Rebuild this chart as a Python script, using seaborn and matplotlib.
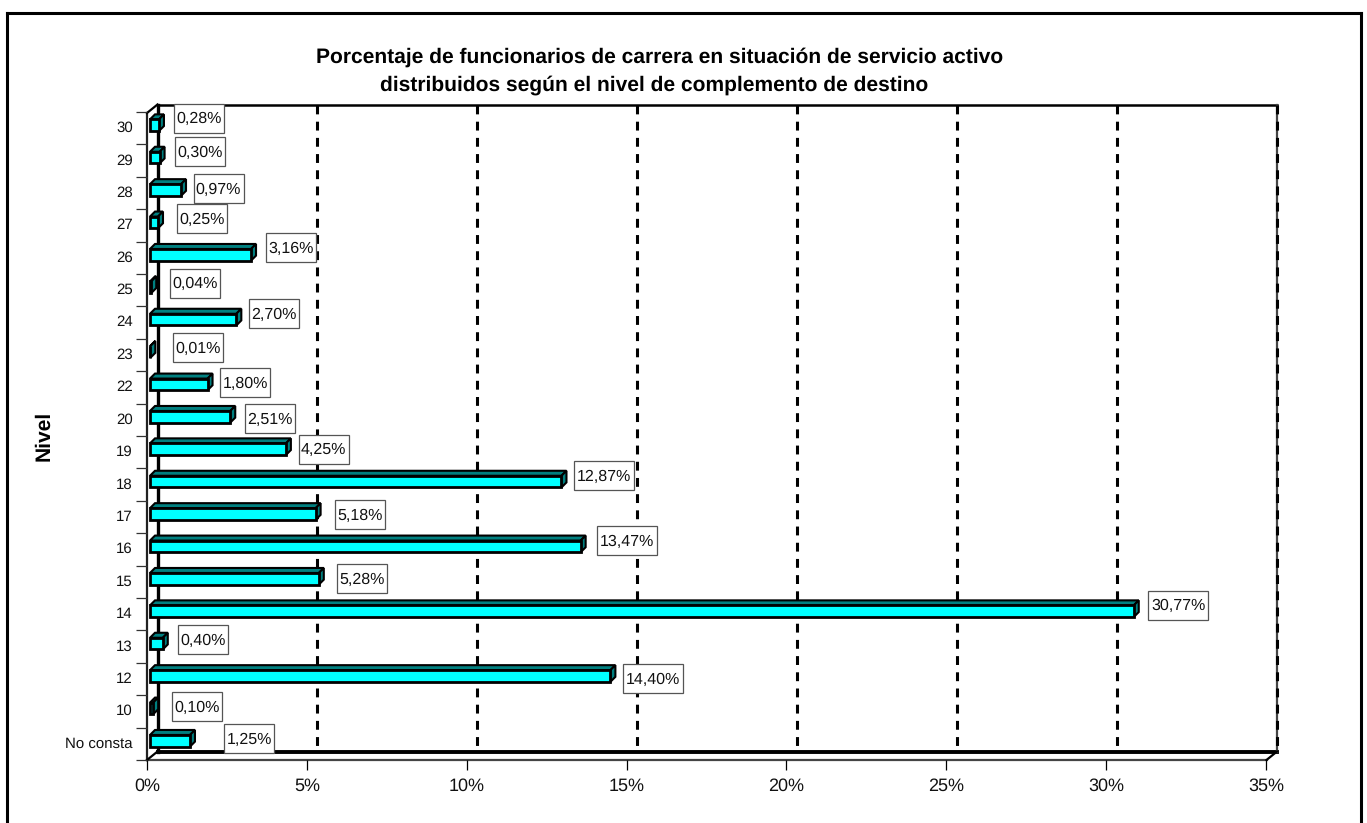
import numpy as np
import pandas as pd
import seaborn as sns
import matplotlib.pyplot as plt
from matplotlib.patches import Polygon, Rectangle
from matplotlib.transforms import Affine2D

niveles = ["30", "29", "28", "27", "26", "25", "24", "23", "22", "20",
           "19", "18", "17", "16", "15", "14", "13", "12", "10", "No consta"]
porcentajes = [0.28, 0.30, 0.97, 0.25, 3.16, 0.04, 2.70, 0.01, 1.80, 2.51,
               4.25, 12.87, 5.18, 13.47, 5.28, 30.77, 0.40, 14.40, 0.10, 1.25]
etiquetas = ["0,28%", "0,30%", "0,97%", "0,25%", "3,16%", "0,04%", "2,70%", "0,01%", "1,80%", "2,51%",
             "4,25%", "12,87%", "5,18%", "13,47%", "5,28%", "30,77%", "0,40%", "14,40%", "0,10%", "1,25%"]
# where each label box sits relative to the end of its bar, in pixels
label_dx = [40, 40, 37.5, 44, 40, 44, 38, 47.7, 37.8, 40, 37.8, 42.8, 44, 46.7, 43, 44.3, 40, 43, 44, 59.5]
label_dy = [7, 6, 1, 4, 7, 4, 6, 4, 2, -2, 0, 6, -1, 6, 0, 6, 4, -3, 2, 2]
xticks_pct = [0, 5, 10, 15, 20, 25, 30, 35]

W, H = 1367, 823
sns.set_theme(style="white")
plt.rcParams['font.family'] = ['Liberation Sans', 'DejaVu Sans']
plt.rcParams['text.hinting'] = 'no_hinting'
plt.rcParams['text.hinting_factor'] = 1

df = pd.DataFrame({"nivel": niveles, "pct": porcentajes})

fig = plt.figure(figsize=(W / 100, H / 100), dpi=100)
# axes = front plane of the fake 3D box
ax = fig.add_axes([147 / W, 1 - 760 / H, (1266 - 147) / W, (760 - 112) / H])
sns.barplot(data=df, x="pct", y="nivel", order=niveles, color="#00ffff", saturation=1,
            width=0.36, edgecolor="black", linewidth=2.0, ax=ax, zorder=5)
ax.set_xlim(0, 35)
ax.set_ylim(19.5, -0.5)
ax.patch.set_alpha(0)
ax.set_zorder(10)
for s in ax.spines.values():
    s.set_visible(False)
ax.set_xlabel("")
ax.set_ylabel("")
ax.set_xticks([])
ax.set_yticks([])


def px(x, y):
    # pixel position counted from the top left of the image
    return fig.transFigure.inverted().transform((x, H - y))


def seg(x0, y0, x1, y1, **kw):
    a, b = px(x0, y0), px(x1, y1)
    kw.setdefault("color", "black")
    kw.setdefault("solid_capstyle", "projecting")
    fig.add_artist(plt.Line2D([a[0], b[0]], [a[1], b[1]], **kw))


# outer frame, open at the bottom
seg(6.5, 13, 1361, 13, linewidth=2.2)
seg(6.5, 13, 6.5, 830, linewidth=2.2)
seg(1361, 13, 1361, 830, linewidth=2.2)

# box: back wall, floor and left wall
depth_x, depth_y = 10.5, 8.5
seg(157.5, 104.5, 1277, 104.5, linewidth=1.8)
seg(157.5, 104.5, 157.5, 751.5, linewidth=2.4)
seg(157.5, 751.5, 1277, 751.5, linewidth=2.8)
seg(1277, 104.5, 1277, 751.5, linewidth=1.6, color="#444444")
seg(147, 113, 147, 760, linewidth=1.6, color="#222222")
seg(147, 760, 1266.5, 760, linewidth=1.6, color="#444444")
seg(147, 113, 157.5, 104.5, linewidth=1.6)
seg(147, 760, 157.5, 751.5, linewidth=1.6)
seg(1266.5, 760, 1277, 751.5, linewidth=1.6)

# dashed gridlines on the back wall
for t in xticks_pct[1:]:
    x0 = ax.transData.transform((t, 0))[0] + depth_x
    seg(x0, 104.5, x0, 751.5, linewidth=2.2, linestyle=(0, (2.9, 2.4)), dash_capstyle="butt")

# value axis ticks and labels
for t in xticks_pct:
    x0 = ax.transData.transform((t, 0))[0]
    seg(x0, 760, x0, 770, linewidth=0.9, solid_capstyle="butt")
    pos = px(x0, 786)
    fig.text(pos[0], pos[1], f"{t}%", ha="center", va="center", fontsize=13, color="#111111")

# category ticks and labels
for i, lab in enumerate(niveles):
    y0 = ax.transData.transform((0, i - 0.5))[1]
    seg(136, H - y0, 147, H - y0, linewidth=0.9, solid_capstyle="butt", color="#333333")
    yc = H - ax.transData.transform((0, i))[1]
    pos = px(133, yc)
    fig.text(pos[0], pos[1], lab, ha="right", va="center", color="#111111", fontsize=11)
seg(136, 760, 147, 760, linewidth=0.9, solid_capstyle="butt", color="#333333")

# bars get pushed into the box, then top and side faces are added
off = ax.transData + Affine2D().translate(3, 3)
d = 5
for p, lab, v, dx, dy in zip(ax.patches, etiquetas, porcentajes, label_dx, label_dy):
    p.set_transform(off)
    p.set_clip_on(False)
    x0, y0 = off.transform((p.get_x(), p.get_y()))
    x1, y1 = off.transform((p.get_x() + p.get_width(), p.get_y() + p.get_height()))
    yt, yb = max(y0, y1), min(y0, y1)
    top = [(x0, yt), (x1, yt), (x1 + d, yt + d), (x0 + d, yt + d)]
    side = [(x1, yt), (x1 + d, yt + d), (x1 + d, yb + d), (x1, yb)]
    for pts in (top, side):
        ax.add_patch(Polygon(pts, closed=True, transform=None, facecolor="#008080",
                             edgecolor="black", linewidth=1.5, zorder=4, clip_on=False))
    lx = x1 + dx
    ly = (yt + yb) / 2 + dy
    bw = 60 if len(lab) > 5 else 50
    ax.add_patch(Rectangle((lx - bw / 2, ly - 14.5), bw, 29, transform=None, facecolor="white",
                           edgecolor="#555555", linewidth=0.9, zorder=7, clip_on=False))
    ax.text(lx, ly - 1, lab, transform=None, ha="center", va="center", fontsize=11.6, color="#111111",
            zorder=8, clip_on=False)

# titles
pos = px(660, 57)
fig.text(pos[0], pos[1], "Porcentaje de funcionarios de carrera en situación de servicio activo",
         ha="center", va="center", fontsize=15.4, fontweight="bold", color="black")
pos = px(654, 85)
fig.text(pos[0], pos[1], "distribuidos según el nivel de complemento de destino",
         ha="center", va="center", fontsize=15.4, fontweight="bold", color="black")
pos = px(44, 436)
fig.text(pos[0], pos[1], "Nivel", rotation=90, ha="center", va="center",
         fontsize=15.4, fontweight="bold", color="black")

fig.savefig("out.png", dpi=100, facecolor="white")
